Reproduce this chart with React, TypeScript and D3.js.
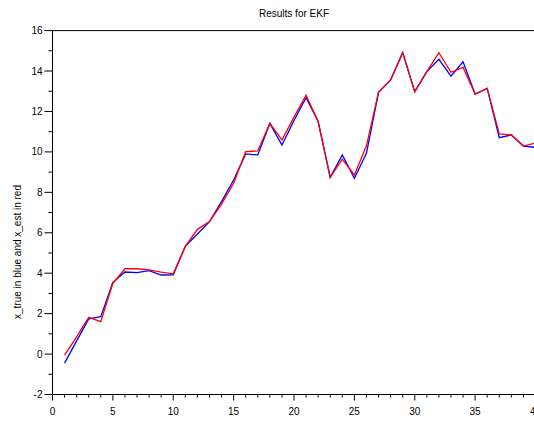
import React from 'react';
import * as d3 from 'd3';

const steps = d3.range(1, 41);
const xTrue = [
  -0.45, 0.65, 1.74, 1.85, 3.55, 4.06, 4.03, 4.13, 3.91, 3.92,
  5.33, 5.94, 6.55, 7.54, 8.61, 9.9, 9.85, 11.41, 10.34, 11.55,
  12.68, 11.5, 8.74, 9.85, 8.69, 9.93, 12.95, 13.56, 14.91, 12.98,
  13.97, 14.58, 13.75, 14.46, 12.86, 13.14, 10.7, 10.84, 10.29, 10.22,
];
const xEst = [
  -0.05, 0.85, 1.82, 1.6, 3.5, 4.22, 4.22, 4.16, 4.05, 3.97,
  5.33, 6.17, 6.55, 7.42, 8.45, 10.01, 10.05, 11.41, 10.59, 11.72,
  12.81, 11.5, 8.74, 9.64, 8.86, 10.3, 12.95, 13.56, 14.91, 12.98,
  13.97, 14.91, 13.94, 14.18, 12.86, 13.14, 10.89, 10.84, 10.29, 10.44,
];
const xTicks = d3.range(0, 41, 5);
const yTicks = d3.range(-2, 17, 2);

const W = 534;
const H = 429;
const left = 52.5;
const right = 535.5;
const top = 30.6;
const bottom = 394.5;

const App = () => {
  const x = d3.scaleLinear().domain([0, 40]).range([left, right]);
  const y = d3.scaleLinear().domain([-2, 16]).range([bottom, top]);
  const line = (vals: number[]) =>
    d3.line<number>()
      .x((_, i) => x(steps[i]))
      .y(d => y(d))(vals) || '';
  const font = "'Liberation Sans', Arial, sans-serif";
  const minorX = d3.range(0, 41, 1).filter(v => v % 5 !== 0);
  const minorY = d3.range(-1, 16, 2);

  return (
    <div style={{ position: 'fixed', left: 0, top: 0 }}>
      <svg width={W} height={H} style={{ display: 'block', background: '#fff' }} fontFamily={font}>
        <text x={(left + right) / 2} y={17} textAnchor="middle" fontSize={10}>Results for EKF</text>

        {/* frame */}
        <line x1={left} x2={W + 5} y1={top} y2={top} stroke="#000" strokeWidth={1} />
        <line x1={left} x2={left} y1={top} y2={bottom} stroke="#000" strokeWidth={1} />
        <line x1={left} x2={W + 5} y1={bottom} y2={bottom} stroke="#000" strokeWidth={1} />

        {yTicks.map(t => (
          <g key={'y' + t}>
            <line x1={left - 8} x2={left} y1={y(t)} y2={y(t)} stroke="#000" />
            <text x={left - 10} y={y(t) + 3.5} textAnchor="end" fontSize={10}>{t}</text>
          </g>
        ))}
        {minorY.map(t => (
          <line key={'my' + t} x1={left - 4} x2={left} y1={y(t)} y2={y(t)} stroke="#000" />
        ))}
        {xTicks.map(t => (
          <g key={'x' + t}>
            <line x1={x(t)} x2={x(t)} y1={bottom} y2={bottom + 6} stroke="#000" />
            <text x={x(t)} y={bottom + 20} textAnchor="middle" fontSize={10}>{t}</text>
          </g>
        ))}
        {minorX.map(t => (
          <line key={'mx' + t} x1={x(t)} x2={x(t)} y1={bottom} y2={bottom + 3} stroke="#000" />
        ))}

        <text
          transform={`translate(21,${252}) rotate(-90)`}
          textAnchor="middle"
          fontSize={10}
        >
          x_true in blue and x_est in red
        </text>

        <path d={line(xTrue)} fill="none" stroke="#0000ff" strokeWidth={1.3} />
        <path d={line(xEst)} fill="none" stroke="#ff0000" strokeWidth={1.3} />
      </svg>
    </div>
  );
};

export default App;
